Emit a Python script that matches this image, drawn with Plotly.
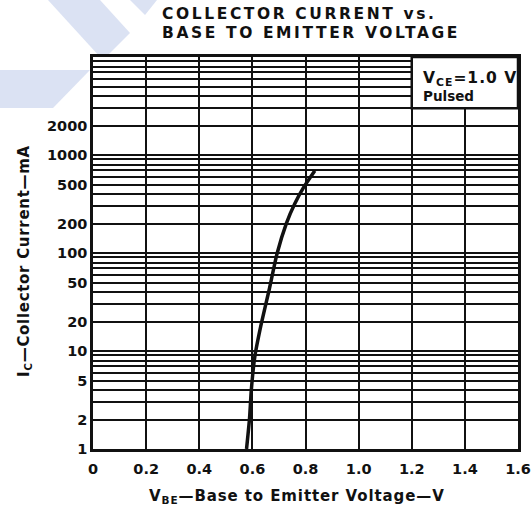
import plotly.graph_objects as go

# ---- data ----
vbe_v = [0.578, 0.589, 0.596, 0.609, 0.634, 0.663, 0.693, 0.728, 0.759, 0.794, 0.835]
ic_ma = [1.0, 2.0, 4.0, 8.7, 19.2, 41.9, 99, 201, 317, 473, 692]

x_tick_vals = [0, 0.2, 0.4, 0.6, 0.8, 1.0, 1.2, 1.4, 1.6]
x_tick_text = ["0", "0.2", "0.4", "0.6", "0.8", "1.0", "1.2", "1.4", "1.6"]
y_labeled = [1, 2, 5, 10, 20, 50, 100, 200, 500, 1000, 2000]
y_grid_vals = [k * 10 ** n for n in range(4) for k in range(1, 10)] + [10000]
y_minor_vals = [v for v in y_grid_vals if v not in y_labeled]

title_line1 = "COLLECTOR CURRENT vs."
title_line2 = "BASE TO EMITTER VOLTAGE"
x_title = "V<sub>BE</sub>\u2014Base to Emitter Voltage\u2014V"
y_title = "I<sub>C</sub>\u2014Collector Current\u2014mA"
cond_line1 = "V<sub>CE</sub>=1.0 V"
cond_line2 = "Pulsed"
cond_box_x = [1.2, 1.6]
cond_box_y = [3000, 10000]

# ---- layout geometry ----
W, H = 532, 512
L, R, T, B = 93, 14, 57, 63
PW, PH = W - L - R, H - T - B


def px(x):
    return (x - L) / PW


def py(y):
    return (H - B - y) / PH


def spaced(text, sp):
    return f'<span style="letter-spacing:{sp}px">{text}</span>'


FONT = "DejaVu Sans"
INK = "#111111"
WM = "#dbe2f3"

fig = go.Figure()
fig.add_trace(go.Scatter(
    x=vbe_v, y=ic_ma, mode="lines",
    line=dict(color=INK, width=3.5, shape="spline", smoothing=0.5),
    showlegend=False, hoverinfo="skip",
))

# watermark polygons (pixel space)
wm_polys = [
    [(48, 0), (100, 0), (130, 33), (106, 57), (100, 57)],
    [(0, 70), (90, 70), (53, 108), (0, 108)],
    [(130, 0), (157, 0), (145, 15)],
]
shapes = []
for poly in wm_polys:
    path = "M " + " L ".join(f"{px(a):.4f},{py(b):.4f}" for a, b in poly) + " Z"
    shapes.append(dict(type="path", xref="paper", yref="paper", path=path,
                       fillcolor=WM, line=dict(width=0), layer="below"))

# condition box
shapes.append(dict(type="rect", xref="x", yref="y",
                   x0=cond_box_x[0], x1=cond_box_x[1],
                   y0=cond_box_y[0], y1=cond_box_y[1], fillcolor="white",
                   line=dict(color=INK, width=2.5), layer="above"))

annotations = [
    dict(text=spaced(title_line1, 2.6),
         x=px(160), y=py(14), xref="paper", yref="paper", xanchor="left", yanchor="middle",
         showarrow=False, font=dict(family=FONT, size=15.5, color=INK, weight="bold")),
    dict(text=spaced(title_line2, 2.6),
         x=px(160), y=py(33), xref="paper", yref="paper", xanchor="left", yanchor="middle",
         showarrow=False, font=dict(family=FONT, size=15.5, color=INK, weight="bold")),
    dict(text=spaced(x_title, 0.9), x=px(297), y=py(496), xref="paper", yref="paper",
         xanchor="center", yanchor="middle", showarrow=False,
         font=dict(family=FONT, size=15, color=INK, weight="bold")),
    dict(text=spaced(y_title, 0.7), x=px(24), y=py(261), xref="paper", yref="paper",
         textangle=-90, xanchor="center", yanchor="middle", showarrow=False,
         font=dict(family=FONT, size=15, color=INK, weight="bold")),
    dict(text=spaced(cond_line1, 1.0), x=px(421), y=py(79), xref="paper", yref="paper",
         xanchor="left", yanchor="middle", showarrow=False,
         font=dict(family=FONT, size=15.5, color=INK, weight="bold")),
    dict(text=cond_line2, x=px(421), y=py(96), xref="paper", yref="paper",
         xanchor="left", yanchor="middle", showarrow=False,
         font=dict(family=FONT, size=13.5, color=INK, weight="bold")),
]

fig.update_layout(
    width=W, height=H,
    margin=dict(l=L, r=R, t=T, b=B, pad=0, autoexpand=False),
    paper_bgcolor="white", plot_bgcolor="white",
    shapes=shapes, annotations=annotations,
    xaxis=dict(range=[0, 1.6], tickvals=x_tick_vals, ticktext=x_tick_text,
               showgrid=True, gridcolor=INK, gridwidth=1.7, zeroline=False,
               showline=True, mirror=True, linecolor=INK, linewidth=2.5,
               ticks="", ticklabelstandoff=5, automargin=False,
               tickfont=dict(family=FONT, size=14.5, color=INK, weight="bold")),
    yaxis=dict(type="log", range=[0, 4], tickmode="array",
               tickvals=y_labeled, ticktext=[str(v) for v in y_labeled],
               showgrid=True, gridcolor=INK, gridwidth=1.7, zeroline=False,
               showline=True, mirror=True, linecolor=INK, linewidth=2.5,
               ticks="", ticklabelstandoff=0, automargin=False,
               minor=dict(tickmode="array", tickvals=y_minor_vals, showgrid=True,
                          gridcolor=INK, gridwidth=1.7, ticks=""),
               tickfont=dict(family=FONT, size=14.5, color=INK, weight="bold")),
)

fig.write_html("out.html", config={"displayModeBar": False},
               post_script="document.body.style.margin='0';")
